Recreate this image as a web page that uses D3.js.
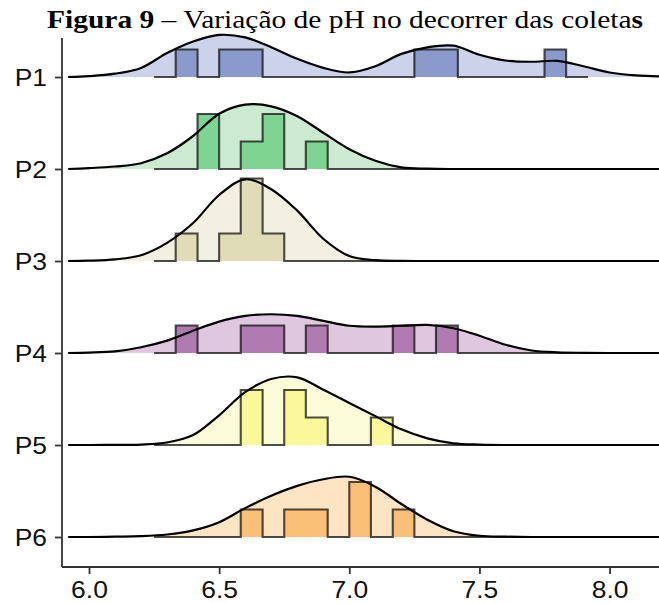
<!DOCTYPE html>
<html>
  <head>
    <style>
    body {
      margin: 0;
      background: #fff;
    }
    </style>
  </head>
  <body>
    <script src="https://cdn.jsdelivr.net/npm/d3@7"></script>
    <script>

var groups = ["P1", "P2", "P3", "P4", "P5", "P6"];
var xTicks = [6.0, 6.5, 7.0, 7.5, 8.0];

// pH grid where the ridge heights were read (scaled density, 1 = tallest ridge)
var densityPh = [5.92, 6.0, 6.1, 6.2, 6.3, 6.4, 6.5, 6.6, 6.7, 6.8, 6.9, 7.0,
                 7.1, 7.2, 7.3, 7.4, 7.5, 7.6, 7.7, 7.8, 7.9, 8.0, 8.1, 8.2];
var densP1 = [0, 0.01, 0.04, 0.11, 0.29, 0.43, 0.51, 0.48, 0.36, 0.22, 0.11, 0.055, 0.13, 0.28, 0.36, 0.38, 0.27, 0.20, 0.185, 0.195, 0.13, 0.055, 0.02, 0.006];
var densP2 = [0, 0.01, 0.03, 0.07, 0.19, 0.40, 0.67, 0.78, 0.76, 0.64, 0.44, 0.24, 0.10, 0.02, 0.004, 0, 0, 0, 0, 0, 0, 0, 0, 0];
var densP3 = [0, 0.004, 0.02, 0.07, 0.22, 0.46, 0.80, 0.99, 0.87, 0.61, 0.27, 0.06, 0.01, 0.001, 0, 0, 0, 0, 0, 0, 0, 0, 0, 0];
var densP4 = [0, 0.005, 0.02, 0.07, 0.15, 0.27, 0.38, 0.45, 0.47, 0.45, 0.39, 0.33, 0.32, 0.33, 0.34, 0.30, 0.21, 0.10, 0.03, 0.008, 0.002, 0, 0, 0];
var densP5 = [0, 0, 0.001, 0.005, 0.03, 0.12, 0.36, 0.64, 0.80, 0.82, 0.67, 0.51, 0.35, 0.19, 0.08, 0.02, 0.005, 0, 0, 0, 0, 0, 0, 0];
var densP6 = [0, 0, 0.004, 0.01, 0.03, 0.08, 0.18, 0.35, 0.50, 0.62, 0.70, 0.73, 0.61, 0.40, 0.21, 0.07, 0.015, 0.004, 0, 0, 0, 0, 0, 0];

// histogram bins (pH edges) and counts per bin
var binEdges = [6.25, 6.333, 6.417, 6.5, 6.583, 6.667, 6.75, 6.833, 6.917, 7.0, 7.083,
                7.167, 7.25, 7.333, 7.417, 7.5, 7.583, 7.667, 7.75, 7.833, 7.917];
var countsP1 = [0, 1, 0, 1, 1, 0, 0, 0, 0, 0, 0, 0, 1, 1, 0, 0, 0, 0, 1, 0];
var countsP2 = [0, 0, 2, 0, 1, 2, 0, 1, 0, 0, 0, 0, 0, 0, 0, 0, 0, 0, 0, 0];
var countsP3 = [0, 1, 0, 1, 3, 1, 0, 0, 0, 0, 0, 0, 0, 0, 0, 0, 0, 0, 0, 0];
var countsP4 = [0, 1, 0, 0, 1, 1, 0, 1, 0, 0, 0, 1, 0, 1, 0, 0, 0, 0, 0, 0];
var countsP5 = [0, 0, 0, 0, 2, 0, 2, 1, 0, 0, 1, 0, 0, 0, 0, 0, 0, 0, 0, 0];
var countsP6 = [0, 0, 0, 0, 1, 0, 1, 1, 0, 2, 0, 1, 0, 0, 0, 0, 0, 0, 0, 0];

var densFills = ["#cbd2ea", "#cbead0", "#f2f0e0", "#dfc8df", "#fdfcd8", "#fde4c3"];
var barFills  = ["#8a9bcb", "#7fd491", "#e0dcb8", "#b07bb0", "#fbf89b", "#fbc078"];

var dens = [densP1, densP2, densP3, densP4, densP5, densP6];
var counts = [countsP1, countsP2, countsP3, countsP4, countsP5, countsP6];

    var width = 659, height = 603;
    var stretch = 1.15;   // the reference text is a bit wider than its height

    var svg = d3.select("body").append("svg")
        .attr("width", width)
        .attr("height", height);

    var x = d3.scaleLinear().domain([6.0, 8.0]).range([89, 609.6]);
    var y = d3.scalePoint().domain(groups).range([77, 537]);
    var hDens = d3.scaleLinear().domain([0, 1]).range([0, 82.5]);
    var hCount = d3.scaleLinear().domain([0, 3]).range([0, 82.5]);

    svg.append("clipPath").attr("id", "panel")
      .append("rect").attr("x", 62).attr("y", 0).attr("width", width - 62).attr("height", 567);

    var ridges = svg.append("g").attr("clip-path", "url(#panel)");

    groups.forEach(function(g, i){
      var base = y(g);
      var pts = densityPh.map(function(p, j){ return [p, dens[i][j]]; });

      var area = d3.area()
          .x(function(d){ return x(d[0]); })
          .y0(base)
          .y1(function(d){ return base - hDens(d[1]); })
          .curve(d3.curveCatmullRom.alpha(0.5));
      var line = d3.line()
          .x(function(d){ return x(d[0]); })
          .y(function(d){ return base - hDens(d[1]); })
          .curve(d3.curveCatmullRom.alpha(0.5));

      ridges.append("path")
          .attr("d", area(pts))
          .style("fill", densFills[i]);

      // step outline of the histogram
      var steps = [[binEdges[0], 0]];
      counts[i].forEach(function(c, k){
        steps.push([binEdges[k], c]);
        steps.push([binEdges[k + 1], c]);
      });
      steps.push([binEdges[binEdges.length - 1], 0]);

      var stepLine = d3.line()
          .x(function(d){ return x(d[0]); })
          .y(function(d){ return base - hCount(d[1]); });

      ridges.append("path")
          .attr("d", stepLine(steps) + "Z")
          .style("fill", barFills[i])
          .style("stroke", "none");
      ridges.append("path")
          .attr("d", stepLine(steps))
          .style("fill", "none")
          .style("stroke", "#111")
          .style("stroke-opacity", 0.75)
          .style("stroke-width", 2.1)
          .style("stroke-linejoin", "miter");

      ridges.append("path")
          .attr("d", line(pts))
          .style("fill", "none")
          .style("stroke", "#000")
          .style("stroke-width", 2.2);
    });

    // axes
    var xAxis = svg.append("g")
        .attr("transform", "translate(0,567)")
        .call(d3.axisBottom(x).tickValues(xTicks).tickFormat(d3.format(".1f")).tickSize(7).tickPadding(0).tickSizeOuter(0));
    xAxis.select(".domain").attr("d", "M62,0H659");
    xAxis.selectAll(".tick text")
        .attr("y", 31)
        .attr("dy", null)
        .attr("transform", "scale(" + stretch + ",1)");

    var yAxis = svg.append("g")
        .attr("transform", "translate(62,0)")
        .call(d3.axisLeft(y).tickSize(7).tickSizeOuter(0));
    yAxis.select(".domain").attr("d", "M0,38V567");
    yAxis.selectAll(".tick text")
        .attr("x", -13)
        .attr("dy", "0.36em")
        .attr("transform", "scale(" + stretch + ",1)");

    svg.selectAll(".domain, .tick line")
        .style("stroke", "#333")
        .style("stroke-width", 1.8);
    svg.selectAll(".tick text")
        .style("font-family", "'Liberation Sans', Arial, sans-serif")
        .style("font-size", "23px")
        .style("fill", "#111");

    var title = svg.append("text")
        .attr("x", 47)
        .attr("y", 28)
        .attr("textLength", 596)
        .attr("lengthAdjust", "spacingAndGlyphs")
        .style("font-family", "'Liberation Serif', 'Times New Roman', serif")
        .style("font-size", "25px")
        .style("fill", "#000");
    title.append("tspan").style("font-weight", "bold").text("Figura 9");
    title.append("tspan").text(" – Variação de pH no decorrer das coleta");
    title.append("tspan").style("font-weight", "bold").text("s");

    </script>
  </body>
</html>
